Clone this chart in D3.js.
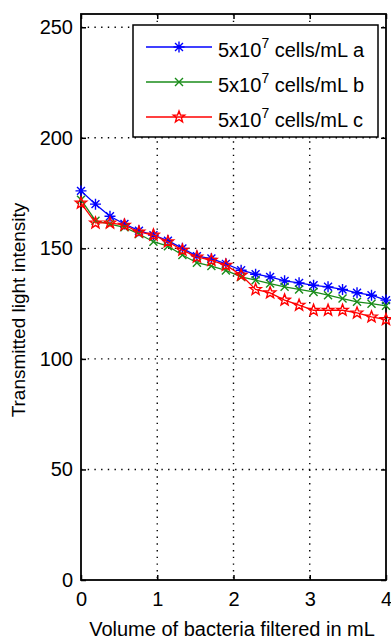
<!DOCTYPE html>
<html>
<head>
<meta charset="utf-8">
<script src="https://cdn.jsdelivr.net/npm/d3@7"></script>
<style>
  body { margin: 0; background: #fff; }
  text { font-family: "Liberation Sans", Arial, sans-serif; fill: #000; }
</style>
</head>
<body>
<div id="chart"></div>
<script>
// data
const volume = [0, 0.19, 0.38, 0.57, 0.76, 0.95, 1.14, 1.33, 1.52, 1.71, 1.90,
  2.10, 2.29, 2.48, 2.67, 2.86, 3.05, 3.24, 3.43, 3.62, 3.81, 4.00]
const seriesA = [176, 170, 164.5, 161, 158, 156, 153.5, 150, 146.5, 145.4, 143,
  140.1, 138.3, 137.1, 135.3, 134.4, 133.3, 132.6, 131.4, 129.9, 128.8, 126.6]
const seriesB = [172, 162.5, 161, 159.5, 156.5, 153, 151, 147, 143.5, 142, 140,
  137.1, 135.6, 134.1, 132.6, 131.4, 130.3, 128.8, 127.3, 125.8, 125, 124]
const seriesC = [170.5, 161.5, 161.5, 160.5, 157.4, 156, 153, 149.2, 146.1, 144.6, 142.4,
  137.9, 131.4, 129.9, 126.6, 124.3, 122, 122, 122, 120.8, 119, 117.8]
const seriesNames = ['a', 'b', 'c']
const xTicks = [0, 1, 2, 3, 4]
const yTicks = [0, 50, 100, 150, 200, 250]

const W = 391, H = 639
const pLeft = 81, pRight = 386, pTop = 14, pBottom = 580

const svg = d3.select('#chart').append('svg')
  .attr('width', W).attr('height', H)

const x = d3.scaleLinear().domain([0, 4]).range([pLeft, pRight])
const y = d3.scaleLinear().domain([0, 256]).range([pBottom, pTop])

// grid
svg.append('g').selectAll('line')
  .data(xTicks.slice(1, -1)).enter().append('line')
  .attr('x1', d => x(d)).attr('x2', d => x(d))
  .attr('y1', pTop).attr('y2', pBottom)
  .attr('stroke', '#000').attr('stroke-width', 1.4)
  .attr('stroke-dasharray', '1.4,5.3')
svg.append('g').selectAll('line')
  .data(yTicks.slice(1)).enter().append('line')
  .attr('x1', pLeft).attr('x2', pRight)
  .attr('y1', d => y(d)).attr('y2', d => y(d))
  .attr('stroke', '#000').attr('stroke-width', 1.4)
  .attr('stroke-dasharray', '1.4,5.3')

// axes (ticks inside, mirrored)
const tk = 5
svg.append('g').attr('transform', `translate(0,${pBottom})`)
  .call(d3.axisBottom(x).tickValues(xTicks).tickSize(-tk).tickPadding(12).tickFormat(d3.format('d')))
svg.append('g').attr('transform', `translate(0,${pTop})`)
  .call(d3.axisTop(x).tickValues(xTicks).tickSize(-tk).tickFormat(''))
svg.append('g').attr('transform', `translate(${pLeft},0)`)
  .call(d3.axisLeft(y).tickValues(yTicks).tickSize(-tk).tickPadding(8))
svg.append('g').attr('transform', `translate(${pRight},0)`)
  .call(d3.axisRight(y).tickValues(yTicks).tickSize(-tk).tickFormat(''))

svg.selectAll('.domain').remove()
svg.selectAll('.tick line').attr('stroke', '#000').attr('stroke-width', 1.5)
svg.selectAll('.tick text').style('font-size', '20px')
  .style('font-family', '"Liberation Sans", Arial, sans-serif')

svg.append('rect')
  .attr('x', pLeft).attr('y', pTop)
  .attr('width', pRight - pLeft).attr('height', pBottom - pTop)
  .attr('fill', 'none').attr('stroke', '#000').attr('stroke-width', 1.8)

// markers
function asterisk(s) {
  const h = s / 2, d = h * 0.72
  return `M${-h},0L${h},0M0,${-h}L0,${h}M${-d},${-d}L${d},${d}M${-d},${d}L${d},${-d}`
}
function cross(s) {
  const h = s / 2
  return `M${-h},${-h}L${h},${h}M${-h},${h}L${h},${-h}`
}
function star(s) {
  const R = s / 2, r = R * 0.42
  let p = ''
  for (let i = 0; i < 10; i++) {
    const a = -Math.PI / 2 + i * Math.PI / 5
    const rr = i % 2 === 0 ? R : r
    p += (i === 0 ? 'M' : 'L') + (rr * Math.cos(a)).toFixed(2) + ',' + (rr * Math.sin(a)).toFixed(2)
  }
  return p + 'Z'
}

const series = [
  { name: seriesNames[0], values: seriesA, color: '#0000ff', marker: asterisk(11) },
  { name: seriesNames[1], values: seriesB, color: '#1a8c1a', marker: cross(8) },
  { name: seriesNames[2], values: seriesC, color: '#ff0000', marker: star(12) }
]

const line = d3.line().x(d => x(d[0])).y(d => y(d[1]))

series.forEach(s => {
  const pts = volume.map((v, i) => [v, s.values[i]])
  svg.append('path').datum(pts)
    .attr('d', line).attr('fill', 'none')
    .attr('stroke', s.color).attr('stroke-width', 1.3)
  svg.append('g').selectAll('path').data(pts).enter().append('path')
    .attr('transform', d => `translate(${x(d[0])},${y(d[1])})`)
    .attr('d', s.marker).attr('fill', 'none')
    .attr('stroke', s.color).attr('stroke-width', 1.4)
})

// legend
const lg = svg.append('g')
lg.append('rect').attr('x', 133).attr('y', 25).attr('width', 245).attr('height', 112)
  .attr('fill', '#fff').attr('stroke', '#000').attr('stroke-width', 1.5)
series.forEach((s, i) => {
  const ly = 47 + i * 35
  lg.append('line').attr('x1', 146).attr('x2', 212).attr('y1', ly).attr('y2', ly)
    .attr('stroke', s.color).attr('stroke-width', 1.3)
  lg.append('path').attr('transform', `translate(179,${ly})`)
    .attr('d', s.marker).attr('fill', 'none')
    .attr('stroke', s.color).attr('stroke-width', 1.4)
  const t = lg.append('text').attr('x', 218).attr('y', ly + 10)
    .style('font-size', '20px')
  t.append('tspan').text('5x10')
  t.append('tspan').attr('dy', -9).style('font-size', '14px').text('7')
  t.append('tspan').attr('dy', 9).text(' cells/mL ' + s.name)
})

// axis titles
svg.append('text')
  .attr('x', 232).attr('y', 636)
  .attr('text-anchor', 'middle').style('font-size', '20px')
  .text('Volume of bacteria filtered in mL')
svg.append('text')
  .attr('transform', 'translate(25,310) rotate(-90)')
  .attr('text-anchor', 'middle').style('font-size', '19px')
  .text('Transmitted light intensity')
</script>
</body>
</html>
